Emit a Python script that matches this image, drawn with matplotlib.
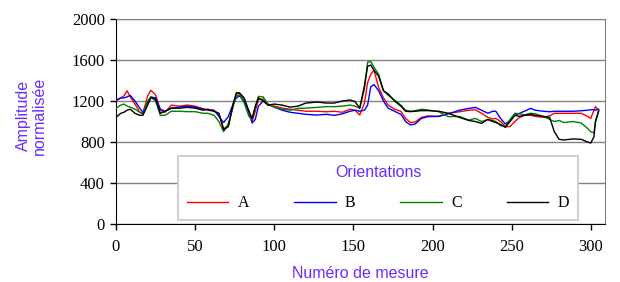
import matplotlib
matplotlib.use("Agg")
import matplotlib.pyplot as plt
from matplotlib.lines import Line2D

x = [0, 3, 5, 7, 9, 12, 15, 17, 20, 22, 25, 28, 31, 35, 40, 45, 50, 55, 58, 62,
     65, 68, 71, 74, 76, 78, 81, 84, 86, 88, 90, 93, 96, 100, 105, 110, 115, 120, 127, 133,
     138, 143, 148, 151, 154, 157, 159, 161, 163, 166, 169, 172, 176, 180, 183, 186, 189, 193, 197, 204,
     210, 217, 223, 227, 231, 235, 238, 240, 243, 246, 249, 252, 255, 258, 262, 265, 270, 274, 277, 280,
     283, 289, 294, 298, 300, 302, 303, 305]

serie_a = [1200, 1230, 1250, 1300, 1240, 1170, 1090, 1080, 1250, 1305, 1260, 1110, 1090, 1160, 1150, 1160, 1150, 1125, 1110, 1100,
           1080, 930, 960, 1150, 1270, 1275, 1200, 1080, 1000, 1100, 1215, 1220, 1160, 1150, 1130, 1120, 1110, 1100, 1100, 1095,
           1100, 1090, 1120, 1110, 1063, 1180, 1380, 1460, 1500, 1330, 1230, 1160, 1120, 1100, 1030, 990, 995, 1040, 1055, 1050,
           1080, 1095, 1110, 1115, 1080, 1040, 1025, 1030, 1000, 950, 950, 1000, 1040, 1060, 1060, 1050, 1040, 1055, 1080, 1080,
           1080, 1080, 1080, 1050, 1030, 1110, 1145, 1110]

serie_b = [1210, 1230, 1230, 1240, 1255, 1200, 1130, 1090, 1180, 1240, 1230, 1120, 1100, 1130, 1140, 1150, 1140, 1120, 1115, 1110,
           1050, 990, 1050, 1170, 1230, 1250, 1200, 1100, 985, 1020, 1150, 1200, 1170, 1140, 1110, 1090, 1080, 1070, 1063, 1070,
           1060, 1075, 1100, 1110, 1100, 1110, 1160, 1340, 1360, 1300, 1200, 1130, 1100, 1070, 1000, 966, 975, 1030, 1047, 1050,
           1075, 1110, 1128, 1138, 1110, 1080, 1100, 1100, 1030, 976, 1010, 1060, 1080, 1100, 1128, 1110, 1100, 1095, 1100, 1100,
           1100, 1100, 1105, 1110, 1115, 1115, 1110, 1120]

serie_c = [1130, 1160, 1170, 1150, 1140, 1120, 1090, 1070, 1200, 1240, 1200, 1060, 1060, 1100, 1100, 1096, 1096, 1080, 1080, 1060,
           1000, 900, 980, 1150, 1250, 1260, 1180, 1050, 1020, 1130, 1245, 1240, 1170, 1140, 1120, 1110, 1128, 1130, 1138, 1145,
           1145, 1150, 1160, 1150, 1130, 1320, 1580, 1585, 1530, 1460, 1300, 1255, 1210, 1160, 1110, 1100, 1105, 1120, 1112, 1095,
           1047, 1050, 1014, 1030, 1000, 1020, 1010, 1000, 960, 950, 1020, 1080, 1075, 1065, 1080, 1075, 1050, 1020, 1000, 1010,
           990, 1000, 985, 933, 900, 890, 1000, 1110]

serie_d = [1040, 1080, 1090, 1110, 1120, 1080, 1060, 1060, 1160, 1230, 1220, 1080, 1100, 1130, 1130, 1138, 1130, 1110, 1120, 1100,
           1080, 920, 950, 1170, 1280, 1280, 1230, 1100, 1030, 1150, 1230, 1200, 1160, 1170, 1160, 1140, 1150, 1180, 1190, 1180,
           1180, 1200, 1210, 1195, 1130, 1350, 1540, 1550, 1500, 1440, 1300, 1270, 1200, 1150, 1100, 1096, 1100, 1106, 1106, 1100,
           1080, 1040, 1010, 1000, 982, 1020, 1000, 990, 970, 943, 1000, 1060, 1050, 1060, 1070, 1060, 1050, 1040, 900, 826,
           820, 830, 826, 800, 790, 850, 1000, 1100]

labels = ["A", "B", "C", "D"]
colors = ["#ff0000", "#0000ff", "#008000", "#000000"]
xticks = [0, 50, 100, 150, 200, 250, 300]
yticks = [0, 400, 800, 1200, 1600, 2000]

violet = "#6a2bff"
serif = ["Liberation Serif", "DejaVu Serif"]
sans = ["Liberation Sans", "DejaVu Sans"]

fig = plt.figure(figsize=(6.2, 2.82), dpi=100)
ax = fig.add_axes([116/620, 1-224/282, (605-116)/620, (224-19)/282])

for s, c in zip([serie_a, serie_b, serie_c, serie_d], colors):
    ax.plot(x, s, color=c, lw=1.0, zorder=3)

ax.set_xlim(0, 309)
ax.set_ylim(0, 2000)
ax.set_xticks(xticks)
ax.set_yticks(yticks)
ax.yaxis.grid(True, color="#808080", lw=1.0)
ax.set_axisbelow(True)
for sp in ["top", "right"]:
    ax.spines[sp].set_color("#808080")
for sp in ["left", "bottom"]:
    ax.spines[sp].set_color("black")
ax.tick_params(direction="out", length=4, width=1, color="black", pad=4)
ax.tick_params(axis="x", pad=7)
for lab in ax.get_xticklabels() + ax.get_yticklabels():
    lab.set_family(serif)
    lab.set_fontsize(12)

ax.set_xlabel("Numéro de mesure", family=sans, fontsize=11.5, color=violet, labelpad=8)
fig.text(0.051, 0.59, "Amplitude\nnormalisée", family=sans, fontsize=11.5, color=violet,
         rotation=90, ha="center", va="center", multialignment="center", linespacing=1.1)

handles = [Line2D([], [], color=c, lw=1.0) for c in colors]
leg = ax.legend(handles, labels, ncol=4, title="Orientations",
                bbox_to_anchor=(178/620, 1-220/282, (578-178)/620, (220-155)/282),
                bbox_transform=fig.transFigure, mode="expand", loc="lower left",
                prop={"family": serif, "size": 11.5}, handlelength=2.6, handletextpad=0.6,
                fancybox=False, framealpha=1, edgecolor="#c8c8c8", borderaxespad=0,
                borderpad=0.55, labelspacing=0.95)
leg.get_frame().set_linewidth(1.2)
t = leg.get_title()
t.set_family(sans)
t.set_fontsize(11.5)
t.set_color(violet)
leg.set_zorder(5)

fig.savefig("out.png", dpi=100)
